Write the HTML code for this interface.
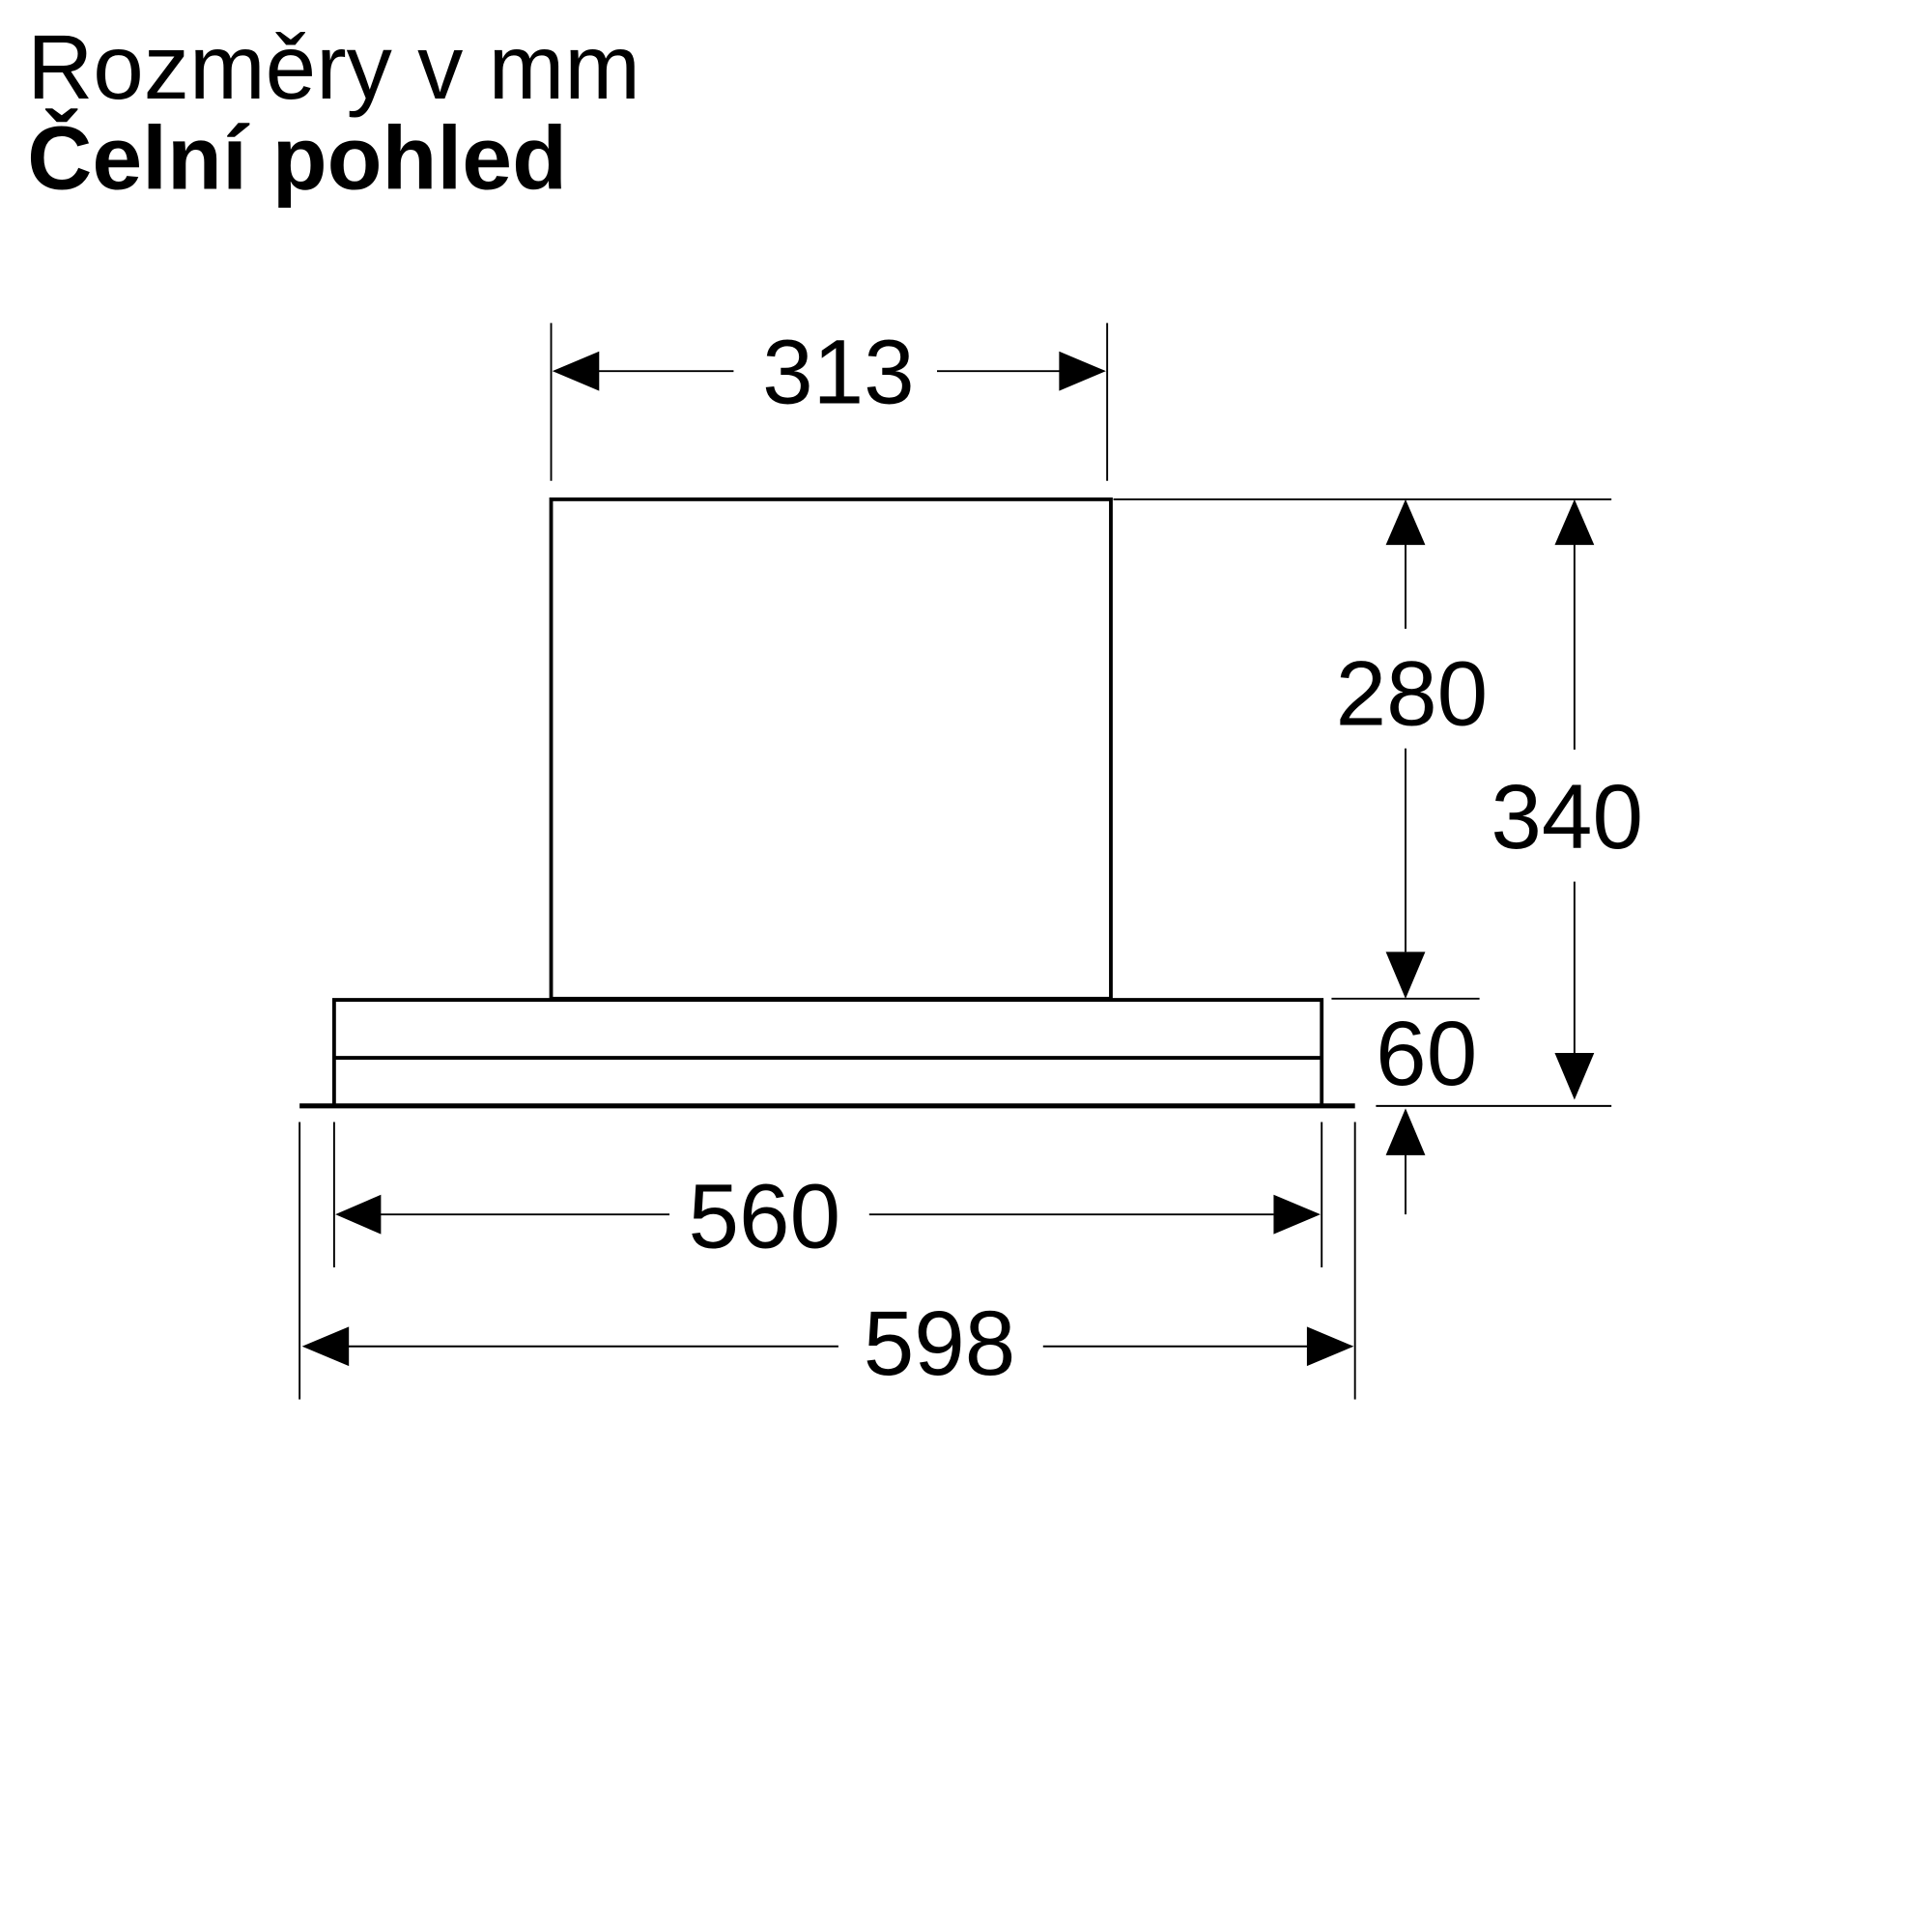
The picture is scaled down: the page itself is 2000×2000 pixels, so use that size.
<!DOCTYPE html>
<html><head><meta charset="utf-8"><style>
html,body{margin:0;padding:0;background:#fff;width:2000px;height:2000px;overflow:hidden}
svg{display:block}
text{font-family:"Liberation Sans",sans-serif;fill:#000}
</style></head><body>
<svg width="2000" height="2000" viewBox="0 0 1567 1567" xmlns="http://www.w3.org/2000/svg">
<text x="22" y="80" font-size="74">Rozměry v mm</text>
<text x="22" y="153" font-size="73" font-weight="bold">Čelní pohled</text>
<g stroke="#000" fill="none">
<rect x="447" y="405" width="454" height="405" stroke-width="3"/>
<path d="M271 897 V811 H1072 V897 M271 858 H1072" stroke-width="3"/>
<path d="M243 897 H1099" stroke-width="4"/>
<g stroke-width="1.5">
<path d="M447 262 V390 M898 262 V390"/>
<path d="M485 301 H595 M760 301 H860"/>
<path d="M903 405 H1307 M1080 810 H1200 M1116 897 H1307"/>
<path d="M1140 440 V510 M1140 607 V772 M1140 935 V985"/>
<path d="M1277 440 V608 M1277 715 V855"/>
<path d="M271 910 V1028 M1072 910 V1028 M243 910 V1135 M1099 910 V1135"/>
<path d="M308 985 H543 M705 985 H1033"/>
<path d="M282 1092 H680 M846 1092 H1061"/>
</g>
</g>
<g fill="#000">
<polygon points="448,301 486,285 486,317"/>
<polygon points="897,301 859,285 859,317"/>
<polygon points="1140,405 1124,442 1156,442"/>
<polygon points="1140,810 1124,772 1156,772"/>
<polygon points="1277,405 1261,442 1293,442"/>
<polygon points="1277,892 1261,854 1293,854"/>
<polygon points="1140,899 1124,937 1156,937"/>
<polygon points="272,985 309,969 309,1001"/>
<polygon points="1071,985 1033,969 1033,1001"/>
<polygon points="245,1092 283,1076 283,1108"/>
<polygon points="1098,1092 1060,1076 1060,1108"/>
</g>
<g font-size="74" text-anchor="middle">
<text x="680" y="327">313</text>
<text x="1145" y="588">280</text>
<text x="1271" y="688">340</text>
<text x="1157" y="880">60</text>
<text x="620" y="1012">560</text>
<text x="762" y="1115">598</text>
</g>
</svg>
</body></html>
